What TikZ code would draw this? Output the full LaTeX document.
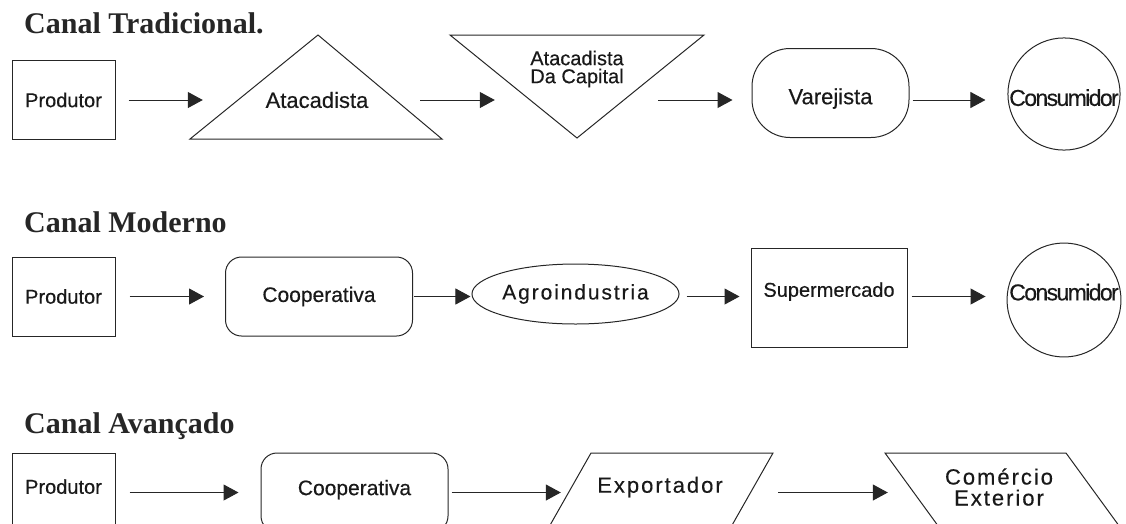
\documentclass[tikz,border=0pt]{standalone}
\usepackage{fontspec}
\setmainfont{Liberation Sans}[FakeBold=0.4]
\newfontfamily\titlefont{Liberation Serif}
\newfontfamily\tightfont{Liberation Sans}[LetterSpace=-7,FakeBold=0.4]
\newfontfamily\loosefont{Liberation Sans}[LetterSpace=9,FakeBold=0.4]
\usetikzlibrary{arrows.meta,shapes.geometric}

\tikzset{
  lbl/.style={inner sep=0pt, font=\fontsize{21}{21}\selectfont, text=black!90},
  line/.style={draw=black!85, line width=1pt},
  pbox/.style={lbl, line, minimum width=103pt, minimum height=79pt, font=\fontsize{20}{20}\selectfont},
  coop/.style={lbl, line, rounded corners=16pt, minimum width=187pt, minimum height=79pt},
  cons/.style={lbl, line, circle, minimum size=110pt, font=\tightfont\fontsize{23}{23}\selectfont},
  flow/.style={-{Triangle[length=15pt,width=16pt]}, draw=black!85, line width=1pt},
  title/.style={anchor=base west, inner sep=0pt, font=\titlefont\bfseries\fontsize{30}{30}\selectfont, text=black!85}
}

\begin{document}
\begin{tikzpicture}[x=1pt,y=-1pt]
  \clip (0,0) rectangle (1126,523);

  \node[title] (t1) at (24,33) {Canal Tradicional.};
  \node[title] (t2) at (24,232) {Canal Moderno};
  \node[title] (t3) at (24,433) {Canal Avançado};

  % canal tradicional
  \node[pbox] (p1) at (63.5,100) {Produtor};
  \draw[line] (318,35) -- (442,139) -- (190,139) -- cycle;
  \node[lbl, minimum width=160pt, font=\fontsize{22}{22}\selectfont] (a1) at (317,100) {Atacadista};
  \draw[line] (450,35) -- (704,35) -- (577,138) -- cycle;
  \node[lbl, minimum width=100pt, align=center, font=\fontsize{20}{18}\selectfont] (d1) at (577,69) {Atacadista\\Da Capital};
  \node[lbl, line, rounded corners=38pt, minimum width=157pt, minimum height=89pt, text height=27pt, font=\fontsize{22}{22}\selectfont] (v1) at (830.5,93) {Varejista};
  \node[cons, text height=24pt] (c1) at (1064,94) {Consumidor};

  \draw[flow, shorten <=13pt, shorten >=34pt] (p1.east) -- (a1.west);
  \draw[flow, shorten <=23pt, shorten >=32pt] (a1.east) -- (a1.east -| d1.west);
  \draw[flow, shorten <=31pt, shorten >=19pt] (a1.east -| d1.east) -- (a1.east -| v1.west);
  \draw[flow, shorten <=3pt, shorten >=22pt] (a1.east -| v1.east) -- (a1.east -| c1.west);

  % canal moderno
  \node[pbox] (p2) at (63.5,296.5) {Produtor};
  \node[coop] (o2) at (319,296.5) {Cooperativa};
  \node[lbl, line, ellipse, minimum width=165pt, minimum height=60pt, font=\loosefont\fontsize{21}{21}\selectfont] (g2) at (575.5,294) {Agroindustria};
  \node[lbl, line, minimum width=156pt, minimum height=99pt, text depth=16pt, font=\fontsize{20}{20}\selectfont] (s2) at (829,297.5) {Supermercado};
  \node[cons, text depth=16pt] (c2) at (1064,300) {Consumidor};

  \draw[flow, shorten <=14pt, shorten >=21pt] (p2.east) -- (o2.west);
  \draw[flow, shorten <=1pt, shorten >=1pt] (o2.east) -- (o2.east -| g2.west);
  \draw[flow, shorten <=7pt, shorten >=11pt] (o2.east -| g2.east) -- (o2.east -| s2.west);
  \draw[flow, shorten <=4pt, shorten >=21pt] (o2.east -| s2.east) -- (o2.east -| c2.west);

  % canal avancado
  \node[pbox, text depth=12pt] (p3) at (63.5,492.5) {Produtor};
  \node[coop, text depth=10pt] (o3) at (354.5,492.5) {Cooperativa};
  \draw[line] (591,453) -- (773,453) -- (727,534) -- (545,534) -- cycle;
  \node[lbl, minimum width=182pt, font=\loosefont\fontsize{22}{22}\selectfont] (e3) at (660,487) {Exportador};
  \draw[line] (885,453) -- (1066,453) -- (1125,534) -- (944,534) -- cycle;
  \node[lbl, minimum width=170pt, align=center, font=\loosefont\fontsize{22}{21}\selectfont] (x3) at (999,487) {Comércio\\Exterior};

  \draw[flow, shorten <=14pt, shorten >=22pt] (p3.east) -- (o3.west);
  \draw[flow, shorten <=3pt, shorten >=8pt] (o3.east) -- (o3.east -| e3.west);
  \draw[flow, shorten <=27pt, shorten >=26pt] (o3.east -| e3.east) -- (o3.east -| x3.west);
\end{tikzpicture}
\end{document}
